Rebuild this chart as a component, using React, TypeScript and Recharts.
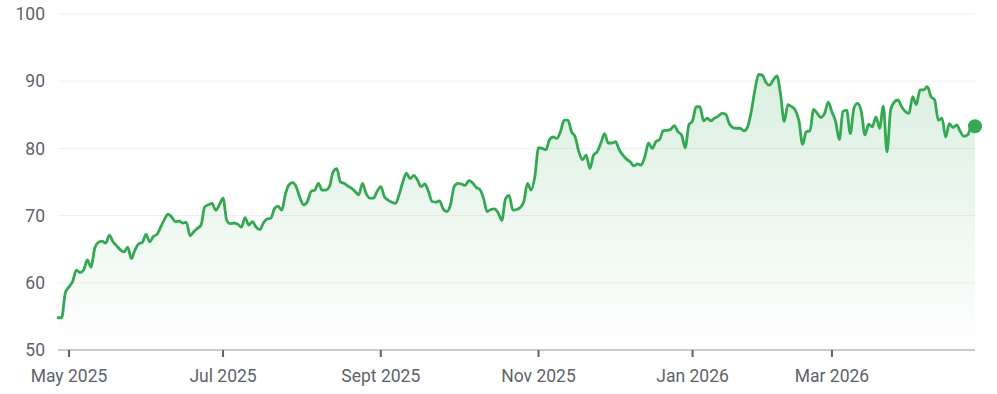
import React from "react";
import {
  AreaChart,
  Area,
  XAxis,
  YAxis,
  CartesianGrid,
  ReferenceDot,
} from "recharts";

// Daily closing prices, one per trading day (index 0 = late Apr 2025)
const prices: number[] = [
  54.8, 54.8, 58.5, 59.4, 60.2, 61.9, 61.5, 61.9, 63.4, 62.3,
  65.1, 66.0, 66.2, 65.9, 67.1, 66.1, 65.5, 64.9, 64.6, 65.3,
  63.6, 64.9, 65.8, 66.0, 67.2, 66.1, 66.9, 67.2, 68.3, 69.4,
  70.2, 69.8, 69.1, 69.2, 68.9, 69.0, 67.0, 67.6, 68.1, 68.6,
  71.3, 71.6, 71.8, 70.8, 71.6, 72.6, 69.3, 68.8, 68.9, 68.7,
  68.3, 69.7, 68.6, 69.1, 68.3, 67.9, 68.9, 69.5, 69.6, 71.0,
  71.4, 70.8, 73.2, 74.6, 74.9, 74.2, 72.6, 71.6, 72.1, 73.6,
  73.8, 74.8, 73.8, 73.8, 74.3, 76.5, 77.0, 75.0, 74.8, 74.4,
  74.1, 73.6, 73.1, 74.8, 73.3, 72.6, 72.6, 73.6, 74.3, 72.8,
  72.3, 72.0, 71.8, 73.1, 75.0, 76.3, 75.5, 76.0, 75.3, 74.3,
  74.7, 73.6, 72.1, 72.0, 72.2, 71.0, 70.6, 71.6, 74.3, 74.8,
  74.7, 74.5, 75.2, 74.9, 74.2, 73.9, 72.6, 70.6, 70.9, 71.0,
  70.4, 69.3, 72.5, 73.0, 70.8, 70.9, 71.2, 72.1, 74.8, 73.8,
  75.8, 80.1, 80.0, 79.8, 81.3, 81.7, 81.5, 82.5, 84.2, 84.2,
  82.5, 81.7, 79.5, 78.3, 79.0, 77.0, 79.0, 79.5, 80.8, 82.2,
  80.8, 80.8, 81.0, 79.8, 79.0, 78.4, 78.0, 77.4, 77.7, 77.5,
  78.8, 80.8, 80.0, 81.0, 81.3, 82.6, 82.7, 82.8, 83.4, 82.5,
  82.0, 80.1, 83.5, 84.1, 86.2, 86.2, 84.1, 84.5, 84.1, 84.5,
  84.8, 85.2, 85.1, 83.7, 83.1, 83.0, 83.0, 82.6, 83.2, 85.5,
  88.7, 91.0, 90.9, 89.8, 89.4, 90.2, 90.8, 88.0, 84.0, 86.5,
  86.2, 85.7, 84.1, 80.6, 82.5, 82.6, 85.8, 85.2, 84.6, 85.2,
  86.9, 85.4, 84.0, 81.3, 85.5, 85.7, 82.2, 86.0, 86.7, 85.5,
  82.0, 83.6, 83.2, 84.7, 83.0, 86.3, 79.5, 85.7, 86.9, 87.2,
  86.2, 85.5, 85.2, 87.7, 86.5, 88.7, 88.7, 89.2, 87.7, 87.2,
  84.2, 84.5, 81.7, 83.7, 83.1, 83.5, 82.5, 81.8, 82.0, 83.2,
  83.3,
];

// Month tick positions (trading-day index) and their labels
const monthTickDays: number[] = [3, 45, 88, 131, 173, 211];
const monthTickLabels: string[] = [
  "May 2025",
  "Jul 2025",
  "Sept 2025",
  "Nov 2025",
  "Jan 2026",
  "Mar 2026",
];

const yTicks: number[] = [50, 60, 70, 80, 90, 100];

const data = prices.map((price, day) => ({ day, price }));
const lastDay = data.length - 1;
const lastPrice = prices[prices.length - 1];

const GREEN = "#34a853";
const TEXT = "#5f6368";
const FONT = "Roboto, 'Noto Sans', Arial, sans-serif";

export default function App() {
  return (
    <div style={{ position: "absolute", left: 0, top: 0, width: 997, height: 394, background: "#fff" }}>
      <AreaChart
        width={997}
        height={394}
        data={data}
        margin={{ top: 14, right: 22, bottom: 0, left: 0 }}
      >
        <defs>
          <linearGradient id="fillGreen" x1="0" y1="0" x2="0" y2="1">
            <stop offset="0%" stopColor={GREEN} stopOpacity={0.3} />
            <stop offset="100%" stopColor={GREEN} stopOpacity={0} />
          </linearGradient>
        </defs>
        <CartesianGrid vertical={false} stroke="#efefef" strokeWidth={1} />
        <XAxis
          dataKey="day"
          type="number"
          domain={[0, lastDay]}
          ticks={monthTickDays}
          tickFormatter={(v: number) => monthTickLabels[monthTickDays.indexOf(v)] ?? ""}
          height={44}
          axisLine={{ stroke: "#9aa0a6", strokeWidth: 1 }}
          tickLine={{ stroke: TEXT, strokeWidth: 2 }}
          tickSize={7}
          tickMargin={13}
          tick={{ fill: TEXT, fontSize: 17.5, fontFamily: FONT }}
          interval={0}
        />
        <YAxis
          type="number"
          domain={[50, 100]}
          ticks={yTicks}
          width={58}
          axisLine={false}
          tickLine={false}
          tickSize={0}
          tickMargin={13}
          tick={{ fill: TEXT, fontSize: 17.5, fontFamily: FONT }}
          interval={0}
        />
        <Area
          type="monotone"
          dataKey="price"
          stroke={GREEN}
          strokeWidth={2.8}
          strokeLinejoin="round"
          strokeLinecap="round"
          fill="url(#fillGreen)"
          dot={false}
          activeDot={false}
          isAnimationActive={false}
        />
        <ReferenceDot x={lastDay} y={lastPrice} r={7} fill={GREEN} stroke="none" />
      </AreaChart>
    </div>
  );
}
